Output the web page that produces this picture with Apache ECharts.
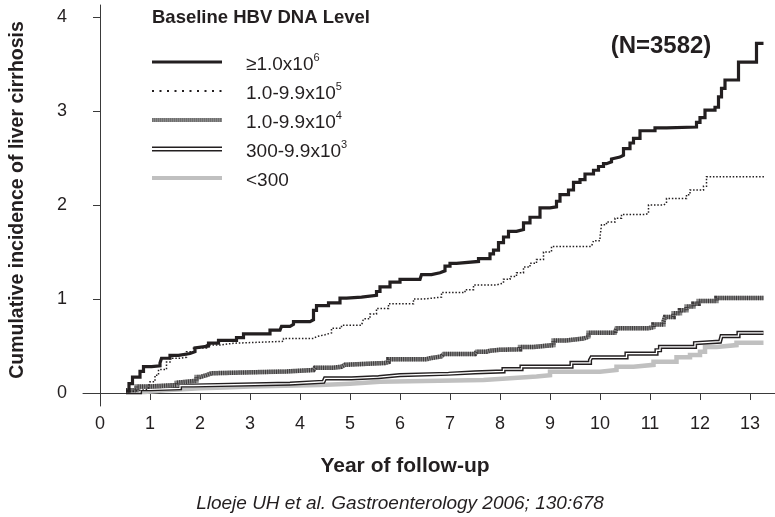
<!DOCTYPE html>
<html><head><meta charset="utf-8">
<script src="https://cdn.jsdelivr.net/npm/echarts@6/dist/echarts.min.js"></script>
<style>html,body{margin:0;padding:0;background:#fff}#c{width:775px;height:517px}</style>
</head><body><div id="c"></div>
<script>
const xTicks = [0,1,2,3,4,5,6,7,8,9,10,11,12,13];
const yTicks = [0,1,2,3,4];
const legendTitle = 'Baseline HBV DNA Level';
const legendLabels = [['≥1.0x10','6'],['1.0-9.9x10','5'],['1.0-9.9x10','4'],['300-9.9x10','3'],['<300','']];
const annotation = '(N=3582)';
const xTitle = 'Year of follow-up';
const yTitle = 'Cumulative incidence of liver cirrhosis';
const citation = 'Lloeje UH et al. Gastroenterology 2006; 130:678';

// [year, cumulative incidence]
const hbvE6 = [[0.52,0.02],[0.58,0.10],[0.65,0.17],[0.80,0.23],[0.87,0.28],[1.03,0.29],[1.20,0.32],[1.23,0.37],[1.40,0.40],[1.57,0.42],[1.80,0.44],[1.90,0.48],[1.93,0.50],[2.17,0.53],[2.37,0.56],[2.73,0.59],[2.87,0.63],[3.40,0.67],[3.60,0.68],[3.63,0.71],[3.80,0.73],[3.87,0.76],[4.20,0.78],[4.27,0.88],[4.33,0.93],[4.57,0.96],[4.80,1.01],[4.93,1.02],[5.23,1.04],[5.53,1.08],[5.60,1.13],[5.80,1.18],[6.00,1.21],[6.40,1.22],[6.43,1.26],[6.63,1.28],[6.80,1.30],[6.90,1.35],[7.00,1.38],[7.13,1.40],[7.57,1.43],[7.80,1.48],[7.87,1.52],[7.97,1.60],[8.07,1.66],[8.17,1.72],[8.33,1.74],[8.47,1.81],[8.60,1.87],[8.80,1.97],[9.00,1.98],[9.13,2.04],[9.20,2.11],[9.37,2.16],[9.47,2.24],[9.60,2.27],[9.70,2.33],[9.87,2.37],[9.97,2.41],[10.07,2.44],[10.13,2.46],[10.23,2.49],[10.27,2.51],[10.40,2.53],[10.47,2.60],[10.60,2.66],[10.67,2.71],[10.80,2.79],[11.10,2.82],[11.33,2.83],[11.93,2.88],[12.00,2.93],[12.10,3.01],[12.30,3.04],[12.37,3.15],[12.43,3.24],[12.50,3.33],[12.77,3.52],[13.13,3.72],[13.27,3.72]];
const hbvE5 = [[0.52,0.02],[0.70,0.04],[0.97,0.07],[1.00,0.12],[1.10,0.19],[1.17,0.25],[1.33,0.33],[1.40,0.37],[1.60,0.38],[1.73,0.44],[1.87,0.48],[2.13,0.51],[2.40,0.53],[2.67,0.55],[3.67,0.58],[4.27,0.60],[4.33,0.62],[4.50,0.64],[4.63,0.69],[4.83,0.72],[5.23,0.74],[5.27,0.79],[5.40,0.84],[5.53,0.90],[5.77,0.95],[6.27,1.00],[6.47,1.02],[6.83,1.07],[7.30,1.10],[7.47,1.15],[7.93,1.17],[8.07,1.21],[8.20,1.24],[8.33,1.28],[8.47,1.34],[8.60,1.38],[8.73,1.42],[8.87,1.50],[9.03,1.56],[9.83,1.58],[9.87,1.62],[10.00,1.66],[10.03,1.79],[10.13,1.82],[10.30,1.86],[10.43,1.90],[10.90,1.91],[10.97,2.00],[11.27,2.02],[11.33,2.07],[11.73,2.11],[11.80,2.16],[12.07,2.20],[12.13,2.30],[13.30,2.30]];
const hbvE4 = [[0.52,0.03],[0.73,0.07],[1.00,0.085],[1.53,0.11],[1.57,0.13],[1.93,0.17],[2.00,0.19],[2.13,0.21],[2.23,0.23],[3.73,0.245],[4.27,0.25],[4.30,0.27],[4.67,0.28],[4.83,0.30],[4.90,0.32],[5.70,0.33],[5.77,0.36],[6.53,0.37],[6.60,0.39],[6.83,0.39],[6.87,0.415],[7.50,0.42],[7.53,0.44],[7.73,0.45],[7.80,0.46],[8.00,0.465],[8.40,0.49],[8.67,0.51],[9.07,0.56],[9.33,0.58],[9.67,0.60],[9.77,0.64],[10.30,0.65],[10.33,0.69],[10.97,0.70],[11.07,0.73],[11.27,0.76],[11.30,0.81],[11.47,0.85],[11.60,0.88],[11.73,0.92],[11.87,0.95],[11.97,0.98],[12.33,1.01],[13.27,1.01]];
const hbvE3 = [[0.52,0.01],[0.80,0.04],[1.00,0.05],[1.60,0.08],[1.87,0.10],[3.80,0.12],[4.47,0.14],[4.50,0.155],[5.03,0.17],[5.57,0.19],[6.00,0.205],[6.97,0.22],[7.50,0.23],[8.07,0.255],[8.43,0.28],[9.43,0.32],[9.80,0.35],[9.83,0.38],[10.53,0.42],[11.13,0.455],[11.20,0.49],[11.90,0.53],[11.93,0.546],[12.40,0.565],[12.43,0.605],[12.77,0.64],[13.27,0.64]];
const hbvLow = [[0.52,0.01],[0.90,0.03],[1.30,0.05],[2.00,0.06],[2.50,0.07],[3.00,0.085],[4.40,0.10],[5.00,0.12],[5.60,0.138],[7.67,0.156],[8.20,0.175],[8.73,0.19],[9.00,0.227],[10.00,0.245],[10.33,0.28],[10.67,0.30],[11.07,0.333],[11.53,0.38],[11.80,0.404],[12.00,0.44],[12.10,0.49],[12.33,0.51],[12.73,0.535],[13.27,0.535]];

const sans = "'Liberation Sans',Arial,sans-serif";

function stepSeries(name, data, style, z) {
  return {name, type:'line', data, step:'end', showSymbol:false, symbol:'none',
    lineStyle: Object.assign({cap:'butt', join:'miter'}, style), z: z || 2, silent:true, animation:false};
}

const legendY = [62, 91, 120, 149, 178];
const legendGraphics = [];
legendGraphics.push({type:'text', left:152, top:8, style:{text:legendTitle, font:"bold 18.5px " + sans, fill:'#231f20'}});
const L1 = 152, L2 = 222;
function lg(y, style){ return {type:'line', shape:{x1:L1,y1:y,x2:L2,y2:y}, style:Object.assign({lineCap:'butt'}, style)}; }
legendGraphics.push(lg(legendY[0], {stroke:'#231f20', lineWidth:3}));
legendGraphics.push(lg(legendY[1], {stroke:'#231f20', lineWidth:2, lineDash:[2,5.5]}));
legendGraphics.push(lg(legendY[2], {stroke:'#8a8a8a', lineWidth:4}));
legendGraphics.push(lg(legendY[2], {stroke:'#555', lineWidth:4, lineDash:[1,1], opacity:0.5}));
legendGraphics.push(lg(legendY[3]-1.7, {stroke:'#231f20', lineWidth:1.4}));
legendGraphics.push(lg(legendY[3]+1.7, {stroke:'#231f20', lineWidth:1.4}));
legendGraphics.push(lg(legendY[4], {stroke:'#c0c0c0', lineWidth:4}));
legendLabels.forEach((lab, i) => {
  legendGraphics.push({type:'text', x:246, y:legendY[i]+1, style:{
    text: '{n|' + lab[0] + '}' + (lab[1] ? '{s|' + lab[1] + '}' : ''),
    textVerticalAlign:'middle',
    rich:{ n:{fontSize:19, fontFamily:sans, fill:'#231f20', lineHeight:22, verticalAlign:'bottom'},
           s:{fontSize:11, fontFamily:sans, fill:'#231f20', verticalAlign:'top', lineHeight:22} }
  }});
});

const option = {
  backgroundColor:'#fff',
  animation:false,
  grid:{left:83, right:0, top:5, bottom:111, containLabel:false},
  xAxis:{type:'value', min:-0.34, max:13.5,
    axisLine:{show:true, lineStyle:{color:'#3a3a3a', width:1}},
    axisTick:{show:true, length:7, customValues:xTicks, lineStyle:{color:'#3a3a3a'}},
    axisLabel:{customValues:xTicks, color:'#231f20', fontSize:18, fontFamily:sans, margin:9},
    splitLine:{show:false}},
  yAxis:{type:'value', min:-0.138, max:4.128,
    axisLine:{show:true, lineStyle:{color:'#3a3a3a', width:1}},
    axisTick:{show:true, length:7, customValues:yTicks, lineStyle:{color:'#3a3a3a'}},
    axisLabel:{customValues:yTicks, color:'#231f20', fontSize:18, fontFamily:sans, margin:16},
    splitLine:{show:false}},
  series:[
    stepSeries('<300', hbvLow, {color:'#c0c0c0', width:4.5}),
    stepSeries('300-9.9x10^3', hbvE3, {color:'#231f20', width:4.2}),
    stepSeries('300-9.9x10^3 inner', hbvE3, {color:'#ffffff', width:1.3}),
    stepSeries('1.0-9.9x10^4', hbvE4, {color:'#8a8a8a', width:4.5}),
    stepSeries('1.0-9.9x10^4 hatch', hbvE4, {color:'#231f20', width:4.5, type:[1,1.2], opacity:0.75}),
    stepSeries('1.0-9.9x10^5', hbvE5, {color:'#231f20', width:1.5, type:[1.5,1.8]}),
    stepSeries('≥1.0x10^6', hbvE6, {color:'#231f20', width:3.2})
  ],
  graphic: legendGraphics.concat([
    {type:'text', x:661, y:46, style:{text:annotation, font:"bold 24px " + sans, fill:'#231f20', textAlign:'center', textVerticalAlign:'middle'}},
    {type:'text', x:405, y:466, style:{text:xTitle, font:"bold 21px " + sans, fill:'#231f20', textAlign:'center', textVerticalAlign:'middle'}},
    {type:'text', x:18, y:200, rotation:Math.PI/2, style:{text:yTitle, font:"bold 19.5px " + sans, fill:'#231f20', textAlign:'center', textVerticalAlign:'middle'}},
    {type:'text', x:400, y:504, style:{text:citation, font:"italic 19px " + sans, fill:'#231f20', textAlign:'center', textVerticalAlign:'middle'}}
  ])
};
const chart = echarts.init(document.getElementById('c'), null, {renderer:'canvas'});
chart.setOption(option);
</script></body></html>
